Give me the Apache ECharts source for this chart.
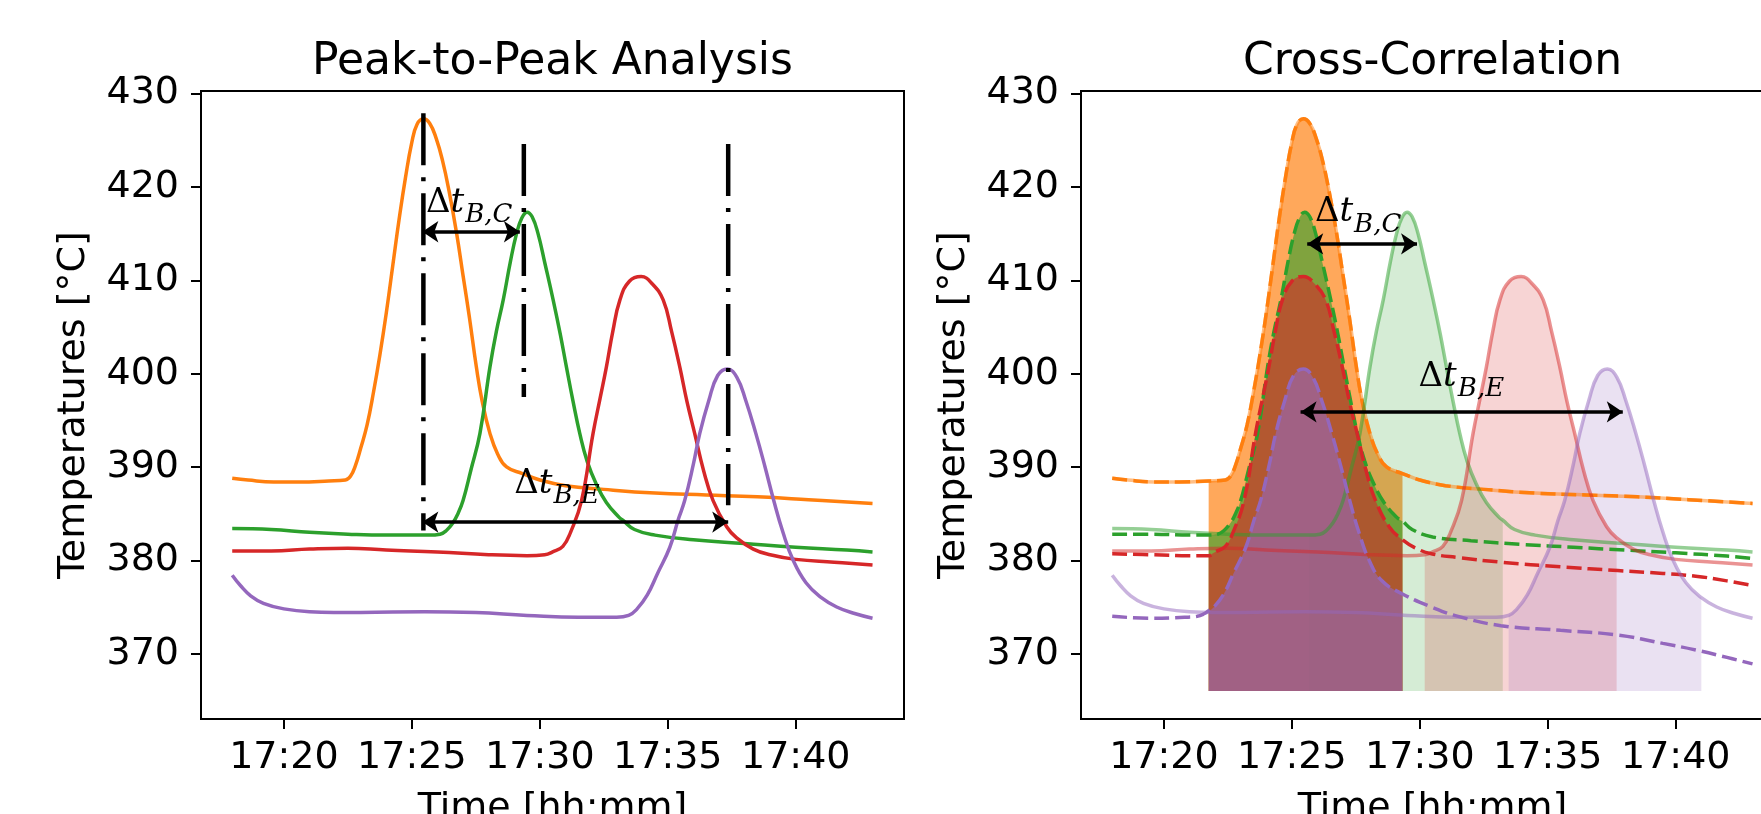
<!DOCTYPE html>
<html>
<head>
<meta charset="utf-8">
<title>Peak-to-Peak Analysis / Cross-Correlation</title>
<script src="https://cdn.jsdelivr.net/npm/echarts@6.0.0/dist/echarts.min.js"></script>
<style>
html, body { margin: 0; padding: 0; background: #fff; }
#main { width: 1761px; height: 814px; }
</style>
</head>
<body>
<div id="main"></div>
<script>
// time = minutes after 17:00, values in °C
const sensorB = [[17.98, 388.8], [18.6, 388.6], [19.6, 388.4], [20.6, 388.4], [21.75, 388.5], [22.4, 388.6], [22.6, 389.0], [22.8, 390.2], [23.0, 392.0], [23.25, 394.5], [23.5, 398.0], [23.75, 402.0], [24.0, 406.5], [24.25, 411.5], [24.5, 416.5], [24.75, 421.0], [25.0, 424.8], [25.2, 426.7], [25.45, 427.3], [25.7, 426.8], [25.95, 425.2], [26.2, 422.8], [26.45, 419.6], [26.75, 415.0], [27.0, 410.5], [27.25, 406.0], [27.52, 400.7], [27.75, 397.0], [28.05, 393.6], [28.35, 391.4], [28.7, 390.0], [29.32, 389.3], [30.0, 388.6], [31.0, 388.0], [32.5, 387.6], [34.5, 387.2], [36.5, 387.0], [38.5, 386.8], [40.5, 386.5], [43.0, 386.1]]
const sensorC = [[17.98, 383.4], [19.5, 383.3], [21.0, 383.0], [22.5, 382.8], [24.0, 382.7], [25.67, 382.7], [26.1, 382.8], [26.35, 383.2], [26.6, 384.0], [26.8, 385.0], [27.0, 386.4], [27.3, 389.6], [27.66, 393.6], [28.05, 400.7], [28.3, 404.5], [28.57, 407.9], [28.85, 412.0], [29.09, 415.0], [29.3, 416.7], [29.5, 417.3], [29.7, 416.8], [29.93, 415.0], [30.2, 411.8], [30.52, 407.9], [30.8, 404.2], [31.04, 400.7], [31.3, 397.0], [31.56, 393.6], [31.85, 390.6], [32.2, 388.2], [32.6, 386.2], [33.1, 384.6], [33.24, 384.3], [33.7, 383.3], [34.5, 382.7], [36.0, 382.2], [38.0, 381.8], [40.0, 381.4], [42.0, 381.1], [43.0, 380.9]]
const sensorD = [[17.98, 381.0], [19.5, 381.0], [21.0, 381.2], [22.5, 381.3], [24.0, 381.1], [26.0, 380.9], [28.0, 380.6], [29.5, 380.5], [30.19, 380.6], [30.5, 380.9], [30.9, 381.5], [31.2, 383.0], [31.63, 386.4], [32.08, 393.6], [32.35, 397.3], [32.6, 400.7], [32.85, 404.5], [33.13, 407.9], [33.5, 409.9], [33.96, 410.4], [34.4, 409.6], [34.82, 407.9], [35.15, 404.5], [35.47, 400.7], [35.75, 397.0], [36.05, 393.6], [36.4, 389.6], [36.77, 386.4], [37.3, 383.6], [37.69, 382.4], [38.34, 381.2], [39.0, 380.6], [40.0, 380.1], [41.5, 379.8], [43.0, 379.5]]
const sensorE = [[17.98, 378.4], [18.3, 377.3], [18.7, 376.2], [19.2, 375.4], [20.0, 374.8], [21.0, 374.5], [23.0, 374.4], [25.5, 374.5], [27.5, 374.4], [29.5, 374.1], [31.5, 373.9], [33.0, 373.9], [33.47, 374.1], [33.8, 374.8], [34.2, 376.3], [34.6, 378.6], [35.08, 381.4], [35.4, 384.3], [35.66, 386.4], [36.0, 390.3], [36.25, 393.6], [36.6, 397.1], [36.95, 399.8], [37.33, 400.5], [37.7, 399.6], [38.05, 397.1], [38.44, 393.6], [38.8, 390.0], [39.14, 386.4], [39.5, 383.0], [39.9, 380.0], [40.4, 377.6], [41.0, 376.0], [41.6, 375.0], [42.3, 374.3], [43.0, 373.8]]

// curves moved onto the B peak (cross-correlation panel, dashed)
const shiftedC = [[17.98, 382.8], [19.5, 382.8], [21.0, 382.7], [21.75, 382.7], [22.1, 382.8], [22.35, 383.2], [22.6, 384.0], [22.8, 385.0], [23.0, 386.4], [23.3, 389.6], [23.66, 393.6], [24.05, 400.7], [24.3, 404.5], [24.57, 407.9], [24.85, 412.0], [25.09, 415.0], [25.3, 416.7], [25.5, 417.3], [25.7, 416.8], [25.93, 415.0], [26.2, 411.8], [26.52, 407.9], [26.8, 404.2], [27.04, 400.7], [27.3, 397.0], [27.56, 393.6], [27.85, 390.6], [28.2, 388.2], [28.6, 386.2], [29.1, 384.6], [29.32, 384.2], [29.7, 383.3], [30.5, 382.5], [32.0, 382.1], [34.0, 381.7], [36.0, 381.4], [38.0, 381.1], [40.0, 380.8], [42.0, 380.45], [43.0, 380.2]]
const shiftedD = [[17.98, 380.7], [19.5, 380.6], [21.0, 380.5], [21.75, 380.5], [22.0, 380.9], [22.4, 381.5], [22.7, 383.0], [23.13, 386.4], [23.58, 393.6], [23.85, 397.3], [24.1, 400.7], [24.35, 404.5], [24.63, 407.9], [25.0, 409.9], [25.45, 410.4], [25.9, 409.6], [26.32, 407.9], [26.65, 404.5], [26.97, 400.7], [27.25, 397.0], [27.55, 393.6], [27.9, 389.6], [28.27, 386.4], [28.8, 383.6], [29.32, 382.2], [29.84, 381.3], [30.45, 380.7], [31.5, 380.3], [33.17, 379.8], [35.5, 379.3], [37.73, 378.9], [39.5, 378.6], [40.78, 378.3], [42.0, 377.8], [43.0, 377.3]]
const shiftedE = [[17.98, 374.0], [19.5, 373.8], [20.8, 373.9], [21.3, 374.0], [21.59, 374.3], [21.75, 374.6], [21.92, 374.9], [22.32, 376.3], [22.72, 378.6], [23.2, 381.4], [23.52, 384.3], [23.78, 386.4], [24.12, 390.3], [24.37, 393.6], [24.72, 397.1], [25.07, 399.8], [25.45, 400.5], [25.82, 399.6], [26.17, 397.1], [26.56, 393.6], [26.92, 390.0], [27.26, 386.4], [27.62, 383.0], [28.02, 380.0], [28.52, 377.8], [29.32, 376.4], [30.45, 375.0], [31.5, 374.0], [33.17, 373.0], [35.5, 372.5], [37.73, 372.0], [39.5, 371.1], [40.78, 370.4], [42.0, 369.6], [43.0, 368.9]]

// correlation windows [start, end]
const windowB = [21.75, 29.32]
const windowC = [25.67, 33.24]
const windowD = [30.19, 37.69]
const windowE = [33.47, 41.0]
const fillBase = 366

const timeTicks = [20, 25, 30, 35, 40]
const tempTicks = [370, 380, 390, 400, 410, 420, 430]

// peak markers: [time, top, bottom]
const peakMarks = [[25.45, 427.9, 383.2], [29.375, 424.6, 397.5], [37.36, 424.6, 385.9]]
// arrows: [from, to, level]
const arrowsLeft = [[25.41, 29.22, 415.2], [25.41, 37.36, 384.1]]
const arrowsRight = [[25.6, 29.89, 413.9], [25.34, 37.93, 395.9]]
// delta-t labels: [subscript, time at left edge, level of baseline]
const labelsLeft = [['B,C', 25.55, 417.2], ['B,E', 29.0, 387.1]]
const labelsRight = [['B,C', 25.9, 416.2], ['B,E', 29.95, 398.6]]

const colors = {B: '#ff7f0e', C: '#2ca02c', D: '#d62728', E: '#9467bd'}
const font = 'DejaVu Sans'

function inWindow (data, w) {
  return data.filter(p => p[0] >= w[0] && p[0] <= w[1])
}

function curve (data, grid, lineStyle, extra) {
  return Object.assign({
    type: 'line',
    xAxisIndex: grid,
    yAxisIndex: grid,
    data: data,
    symbol: 'none',
    smooth: 0.45,
    silent: true,
    animation: false,
    lineStyle: lineStyle
  }, extra || {})
}

function fill (data, color, opacity) {
  return curve(data, 1, {opacity: 0, width: 0}, {
    areaStyle: {color: color, opacity: opacity, origin: fillBase}
  })
}

function arrowLine (list) {
  return {
    silent: true,
    animation: false,
    symbol: ['arrow', 'arrow'],
    symbolSize: 16,
    label: {show: false},
    lineStyle: {color: '#000', width: 3.5, type: 'solid'},
    data: list.map(a => [{coord: [a[0], a[2]]}, {coord: [a[1], a[2]]}])
  }
}

function xAxis (grid) {
  return {
    type: 'value', gridIndex: grid, min: 16.76, max: 44.23,
    name: 'Time [hh:mm]', nameLocation: 'middle', nameGap: 71,
    nameTextStyle: {fontFamily: font, fontSize: 38, color: '#000'},
    axisLine: {show: false},
    splitLine: {show: false},
    axisTick: {show: true, length: 10, customValues: timeTicks, lineStyle: {color: '#000', width: 2}},
    axisLabel: {customValues: timeTicks, margin: 20, fontFamily: font, fontSize: 38, color: '#000',
      formatter: v => '17:' + v}
  }
}

function yAxis (grid) {
  return {
    type: 'value', gridIndex: grid, min: 363.0, max: 430.28,
    name: 'Temperatures [°C]', nameLocation: 'middle', nameRotate: 90, nameGap: 108,
    nameTextStyle: {fontFamily: font, fontSize: 38, color: '#000'},
    axisLine: {show: false},
    splitLine: {show: false},
    axisTick: {show: true, length: 10, customValues: tempTicks, lineStyle: {color: '#000', width: 2}},
    axisLabel: {customValues: tempTicks, margin: 22, fontFamily: font, fontSize: 38, color: '#000'}
  }
}

let series = []

// left panel: raw sensors
series.push(curve(sensorB, 0, {color: colors.B, width: 3.5}))
series.push(curve(sensorC, 0, {color: colors.C, width: 3.5}))
series.push(curve(sensorD, 0, {color: colors.D, width: 3.5}))
series.push(curve(sensorE, 0, {color: colors.E, width: 3.5}))
peakMarks.forEach((m, i) => {
  let s = curve([[m[0], m[1]], [m[0], m[2]]], 0, {color: '#000', width: 4.5, type: [52, 12, 4, 12]}, {smooth: false})
  if (i === 0) s.markLine = arrowLine(arrowsLeft)
  series.push(s)
})

// right panel: faint raw curve + window, dashed shifted curve + reference window
const signals = [
  [sensorB, sensorB, windowB, colors.B],
  [sensorC, shiftedC, windowC, colors.C],
  [sensorD, shiftedD, windowD, colors.D],
  [sensorE, shiftedE, windowE, colors.E]
]
signals.forEach(s => {
  series.push(curve(s[0], 1, {color: s[3], width: 3.5, opacity: 0.5}))
  series.push(fill(inWindow(s[0], s[2]), s[3], 0.2))
  series.push(curve(s[1], 1, {color: s[3], width: 3.5, type: [15, 6]}))
  series.push(fill(inWindow(s[1], windowB), s[3], 0.6))
})
series[series.length - 1].markLine = arrowLine(arrowsRight)

let option = {
  backgroundColor: '#fff',
  animation: false,
  grid: [
    {left: 201, top: 91, width: 703, height: 628, show: true, borderColor: '#000', borderWidth: 2,
      containLabel: false, outerBoundsMode: 'none'},
    {left: 1081, top: 91, width: 703, height: 628, show: true, borderColor: '#000', borderWidth: 2,
      containLabel: false, outerBoundsMode: 'none'}
  ],
  xAxis: [xAxis(0), xAxis(1)],
  yAxis: [yAxis(0), yAxis(1)],
  series: series
}

let myChart = echarts.init(document.getElementById('main'))
myChart.setOption(option, true)

function deltaLabel (item, grid) {
  let p = myChart.convertToPixel({gridIndex: grid}, [item[1], item[2]])
  return {
    type: 'text',
    x: p[0],
    y: p[1] - 10,
    z: 100,
    silent: true,
    style: {
      text: '{d|Δ}{t|t}{s|' + item[0] + '}',
      align: 'left',
      verticalAlign: 'middle',
      rich: {
        d: {fontFamily: 'DejaVu Serif', fontSize: 34, color: '#000'},
        t: {fontFamily: 'DejaVu Serif', fontStyle: 'italic', fontSize: 34, color: '#000'},
        s: {fontFamily: 'DejaVu Serif', fontStyle: 'italic', fontSize: 26, color: '#000', padding: [25, 0, 0, 1]}
      }
    }
  }
}

function titleText (text, grid) {
  let a = myChart.convertToPixel({gridIndex: grid}, [16.76, 430.28])
  let b = myChart.convertToPixel({gridIndex: grid}, [44.23, 430.28])
  return {
    type: 'text', x: (a[0] + b[0]) / 2, y: 63, silent: true,
    style: {text: text, fontFamily: font, fontSize: 44, fill: '#000', align: 'center', verticalAlign: 'middle'}
  }
}

let graphics = [titleText('Peak-to-Peak Analysis', 0), titleText('Cross-Correlation', 1)]
labelsLeft.forEach(l => graphics.push(deltaLabel(l, 0)))
labelsRight.forEach(l => graphics.push(deltaLabel(l, 1)))
myChart.setOption({graphic: graphics})
</script>
</body>
</html>
